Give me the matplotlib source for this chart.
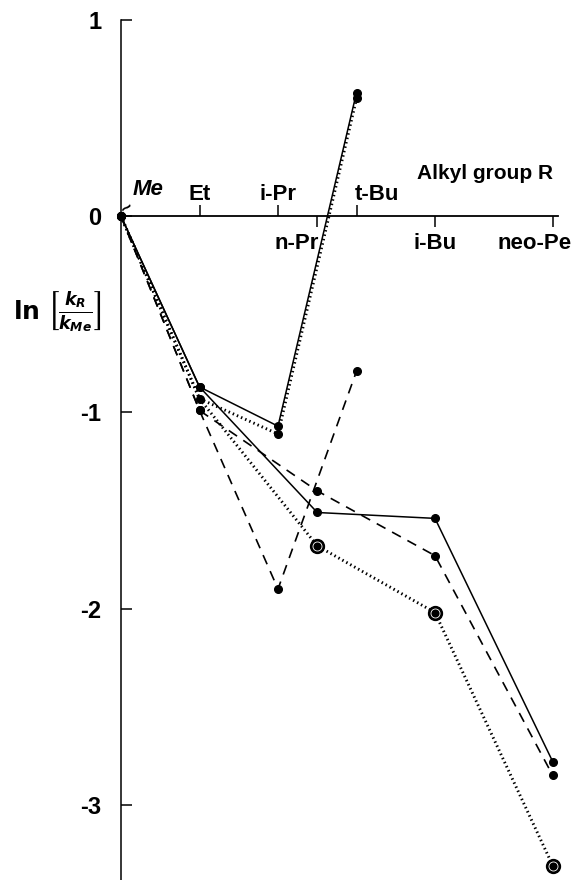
import numpy as np
import matplotlib
matplotlib.use('Agg')
import matplotlib.pyplot as plt
import matplotlib as mpl
from matplotlib.transforms import ScaledTranslation

mpl.rcParams['axes.unicode_minus'] = False
mpl.rcParams['font.family'] = ['Liberation Sans', 'DejaVu Sans']
mpl.rcParams['font.weight'] = 'bold'

# position of each alkyl group along the horizontal axis
groups = ['Me', 'Et', 'i-Pr', 'n-Pr', 't-Bu', 'i-Bu', 'neo-Pe']
group_pos = [0, 1, 2, 2.5, 3, 4, 5.5]
pos = dict(zip(groups, group_pos))

upper_groups = ['Et', 'i-Pr', 't-Bu']
lower_groups = ['n-Pr', 'i-Bu', 'neo-Pe']

# alpha branching and beta branching series
alpha = ['Me', 'Et', 'i-Pr', 't-Bu']
beta = ['Me', 'Et', 'n-Pr', 'i-Bu', 'neo-Pe']

solid_alpha = [0, -0.87, -1.07, 0.63]
solid_beta = [0, -0.87, -1.51, -1.54, -2.78]
dotted_alpha = [0, -0.93, -1.11, 0.60]
dotted_beta = [0, -0.93, -1.68, -2.02, -3.31]
dashed_alpha = [0, -0.99, -1.90, -0.79]
dashed_beta = [0, -0.99, -1.40, -1.73, -2.85]

yticks = [-3, -2, -1, 0, 1]

fig = plt.figure(figsize=(5.72, 8.8), dpi=100)
ax = fig.add_axes([121 / 572, 0, 451 / 572, 860 / 880])
ax.set_xlim(0, 451 / 78.5)
ax.set_ylim(-3.383, 1.0)

solid = dict(color='black', lw=1.1, linestyle='-')
dashed = dict(color='black', lw=1.2, linestyle=(0, (6, 4.5)))
dotted = dict(color='black', lw=2.1, linestyle=(0, (0.5, 1.05)))
dot = dict(marker='o', ms=5.5, mfc='black', mec='black', linestyle='none', clip_on=False, zorder=5)

xa = [pos[g] for g in alpha]
xb = [pos[g] for g in beta]

ax.plot(xa, solid_alpha, clip_on=False, **solid)
ax.plot(xb, solid_beta, clip_on=False, **solid)
ax.plot(xa, dashed_alpha, clip_on=False, **dashed)
ax.plot(xb, dashed_beta, clip_on=False, **dashed)
ax.plot(xa, dotted_alpha, clip_on=False, **dotted)
ax.plot(xb, dotted_beta, clip_on=False, **dotted)

ax.plot(xa, solid_alpha, **dot)
ax.plot(xb, solid_beta, **dot)
ax.plot(xa, dashed_alpha, **dot)
ax.plot(xb, dashed_beta, **dot)
ax.plot(xa, dotted_alpha, **dot)
# ringed markers for the dotted beta series
ax.plot(xb[2:], dotted_beta[2:], marker='o', ms=10, mfc='black', mec='black',
        linestyle='none', clip_on=False, zorder=6)
ax.plot(xb[2:], dotted_beta[2:], marker='o', ms=6.5, mfc='none', mec='white',
        mew=0.6, linestyle='none', clip_on=False, zorder=7)

# axes: vertical at Me, horizontal through zero
for s in ['top', 'right']:
    ax.spines[s].set_visible(False)
ax.spines['bottom'].set_position(('data', 0))
ax.spines['bottom'].set_bounds(0, 5.57)
ax.spines['left'].set_bounds(-3.383, 1.0)
ax.spines['bottom'].set_linewidth(1.3)
ax.spines['left'].set_linewidth(1.1)

ax.set_yticks(yticks)
ax.set_yticklabels([str(v) for v in yticks])
ax.tick_params(axis='y', direction='in', length=8, width=1.1, pad=14, labelsize=17)

ax.set_xticks([pos[g] for g in lower_groups])
ax.set_xticklabels(lower_groups)
ax.set_xticks([pos[g] for g in upper_groups], minor=True)
ax.set_xticklabels(upper_groups, minor=True)
ax.tick_params(axis='x', which='major', direction='out', length=8, width=1.1,
               pad=4, labelsize=16)
ax.tick_params(axis='x', which='minor', direction='in', length=8, width=1.1,
               pad=-23, labelsize=16)

# nudge some group names off their ticks
lab = dict(zip(lower_groups, ax.get_xticklabels()))
lab.update(zip(upper_groups, ax.get_xticklabels(minor=True)))
lab['t-Bu'].set_ha('left')
lab['t-Bu'].set_transform(lab['t-Bu'].get_transform() + ScaledTranslation(-2 / 100, 0, fig.dpi_scale_trans))
lab['n-Pr'].set_ha('right')
lab['n-Pr'].set_transform(lab['n-Pr'].get_transform() + ScaledTranslation(2 / 100, 0, fig.dpi_scale_trans))
lab['neo-Pe'].set_ha('right')
lab['neo-Pe'].set_transform(lab['neo-Pe'].get_transform() + ScaledTranslation(19 / 100, 0, fig.dpi_scale_trans))

ax.text(0.15, 0.085, 'Me', fontsize=16, style='italic', ha='left', va='bottom')
ax.text(0.08, 0.035, '~', fontsize=14, rotation=35, ha='center', va='center')
ax.text(5.50, 0.19, 'Alkyl group R', fontsize=15, ha='right', va='baseline')

fig.text(58 / 572, 1 - 312 / 880, r'$\mathbf{ln}\ \left[\frac{k_R}{k_{Me}}\right]$',
         fontsize=18, ha='center', va='center')

fig.savefig('out.png', dpi=100)
